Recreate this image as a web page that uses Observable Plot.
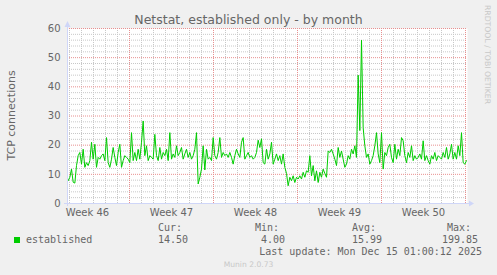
<!DOCTYPE html>
<html><head><meta charset="utf-8">
<script src="https://cdn.jsdelivr.net/npm/d3@7"></script>
<script src="https://cdn.jsdelivr.net/npm/@observablehq/plot@0.6"></script>
<style>
html,body{margin:0;padding:0;background:#f0f0f0;}
#wrap{position:relative;width:497px;height:275px;overflow:hidden;}
</style></head><body><div id="wrap"></div>
<script>
// ---- data ----
const values = [
 9.5,7.8,9,11.8,7.3,7,13,16.4,17.5,13.5,18.6,12.4,14,13,14.7,21,15.2,20.3,12.4,15.8,15.2,16.4,17,14.7,22.6,14,12.4,15.2,19.2,15.8,13,17.5,20.3,12.4,14.7,16.4,15.8,15.2,14,24.3,14.7,17.5,14.7,18.6,15.2,21,28.3,16.4,19.8,14.7,16.4,15.8,15.2,23.7,16.4,14.7,19.2,15.2,17.5,16.4,18.6,14.7,24.3,15.2,17,15.8,19.8,16.4,17.5,19.2,15.2,17,18.6,15.8,17.5,15.2,16.4,18.6,24.3,6.7,9,
 11.8,19.8,11.5,18.6,15.2,15.8,14.7,22.6,16.4,15.2,17.5,22.6,15.8,17.5,16.4,17,15.8,17.5,15.8,13.5,16.4,18.6,17,15.8,21,22.6,15.2,16.4,17.5,15.8,16.4,15.2,15.8,17.5,21.7,19.2,22.2,14,13.5,18.6,15.2,17,21,13.5,15.2,17,14.7,16.4,13.5,17,12.4,10.3,6.1,9,7.8,9.5,7.2,9,8.4,9.5,8.4,10.7,9,11.2,10.7,16.4,9.5,13,7.8,11.2,7.2,10.7,9,11.8,10.3,9,18,17.5,18.6,17,
 15.2,13,19.2,15.8,18,15.2,12.4,13.5,16.4,15.2,18.6,17,19.8,15.8,44,25,56,26,19.8,15.8,17,13.5,14.7,16.4,19.8,24.3,17,14,24.3,11.8,17.5,16.4,19.2,20.3,15.8,14,20.3,15.2,18.6,16.4,22.6,21.5,16.4,14,17.5,15.8,19.8,14.7,16.4,15.2,15.8,17,15.2,21.5,14.7,16.4,14.7,13.5,16.4,15.2,17.5,14.7,16.4,15.8,15.2,17.5,15.8,19.2,15.2,17,20.3,15.2,17.5,15.2,19.8,16.4,24.3,14,13.5,14.7
];
const sampleStart = Date.UTC(2025, 10, 11, 18, 0);
const sampleStepMinutes = 200;
const viewStart = Date.UTC(2025, 10, 11, 20, 0);
const viewEnd = Date.UTC(2025, 11, 15, 4, 0);
const weekStarts = ["2025-11-10", "2025-11-17", "2025-11-24", "2025-12-01", "2025-12-08", "2025-12-15"];
const weekLabels = ["Week 46", "Week 47", "Week 48", "Week 49", "Week 50"];
const yTicks = [0, 10, 20, 30, 40, 50, 60];
const titleText = "Netstat, established only - by month";
const yLabel = "TCP connections";
const seriesName = "established";
const statHeads = ["Cur:", "Min:", "Avg:", "Max:"];
const statValues = ["14.50", "4.00", "15.99", "199.85"];
const lastUpdate = "Last update: Mon Dec 15 01:00:12 2025";
const versionText = "Munin 2.0.73";
const watermark = "RRDTOOL / TOBI OETIKER";

// ---- derived ----
const data = values.map((v, i) => ({date: new Date(sampleStart + i * sampleStepMinutes * 60000), value: v}));
const xDomain = [new Date(viewStart), new Date(viewEnd)];
const weekDates = weekStarts.map(s => new Date(s + "T00:00:00Z"));
const weekLines = weekDates.filter(d => d > xDomain[0] && d <= xDomain[1]);
const weekMids = weekDates.slice(0, weekLabels.length).map(d => new Date(+d + 3.5 * 864e5));
const labelByTime = new Map(weekMids.map((d, i) => [+d, weekLabels[i]]));
const weekSet = new Set(weekDates.map(d => +d));
const minorDays = d3.utcDay.range(xDomain[0], xDomain[1]).filter(d => !weekSet.has(+d));
const minorY = d3.range(2, 60, 2).filter(v => v % 10 !== 0);
const majorY = yTicks.filter(v => v > 0);

const gridMinor = {stroke: "#c8c8c8", strokeDasharray: "1,1"};
const gridMajor = {stroke: "#e89090", strokeDasharray: "1,1"};

const plot = Plot.plot({
  width: 497, height: 275,
  marginLeft: 67, marginRight: 30, marginTop: 28, marginBottom: 72,
  style: {background: "transparent", fontFamily: "'DejaVu Sans', sans-serif", fontSize: "10px", color: "#666", overflow: "visible"},
  x: {type: "utc", domain: xDomain, axis: null},
  y: {domain: [0, 60], axis: null},
  marks: [
    Plot.frame({fill: "#ffffff", stroke: null}),
    Plot.ruleY(minorY, gridMinor),
    Plot.ruleX(minorDays, gridMinor),
    Plot.ruleY(majorY, gridMajor),
    Plot.ruleX(weekLines, gridMajor),
    Plot.line(data, {x: "date", y: "value", stroke: "#00cc00", strokeWidth: 1, clip: true}),
    Plot.axisY(yTicks, {anchor: "left", tickSize: 0, tickPadding: 7, label: null, fill: "#666"}),
    Plot.axisX(weekMids, {anchor: "bottom", tickSize: 0, tickPadding: 5, label: null, fill: "#666",
      tickFormat: d => labelByTime.get(+d)})
  ]
});
document.getElementById("wrap").appendChild(plot);

// ---- decorations: axis lines, arrows, texts ----
const svg = d3.select(plot);
const xs = plot.scale("x"), ys = plot.scale("y");
const X0 = xs.apply(xDomain[0]), X1 = xs.apply(xDomain[1]);
const Y0 = ys.apply(0), Y1 = ys.apply(60);
const axisColor = "#CFD6F8";
svg.append("line").attr("x1", X0 - 3).attr("x2", X1 + 3).attr("y1", Y0 + 0.5).attr("y2", Y0 + 0.5).attr("stroke", axisColor);
svg.append("line").attr("x1", X0 + 0.5).attr("x2", X0 + 0.5).attr("y1", Y0 + 3).attr("y2", Y1 - 5).attr("stroke", axisColor);
svg.append("path").attr("d", `M${X1 + 7},${Y0 + 0.5}L${X1 + 2},${Y0 - 2.5}L${X1 + 2},${Y0 + 3.5}Z`).attr("fill", axisColor);
svg.append("path").attr("d", `M${X0 + 0.5},${Y1 - 7}L${X0 - 2.5},${Y1 - 1}L${X0 + 3.5},${Y1 - 1}Z`).attr("fill", axisColor);

const sans = "'DejaVu Sans', sans-serif", mono = "'DejaVu Sans Mono', monospace";
function txt(x, y, s, size, opts = {}) {
  const t = svg.append("text").attr("x", x).attr("y", y).text(s)
    .attr("font-family", opts.family || sans).attr("font-size", size)
    .attr("fill", opts.fill || "#666").attr("text-anchor", opts.anchor || "start");
  if (opts.transform) t.attr("transform", opts.transform);
  return t;
}
txt(248.5, 24, titleText, 12.5, {anchor: "middle"});
txt(0, 0, yLabel, 11, {anchor: "middle", transform: `translate(15,${(Y0 + Y1) / 2}) rotate(-90)`});
txt(0, 0, watermark, 7.7, {fill: "#c8c8c8", transform: "translate(485,5) rotate(90)"});

svg.append("rect").attr("x", 14).attr("y", 237).attr("width", 6).attr("height", 6).attr("fill", "#00cc00");
txt(26, 243, seriesName, 10, {family: mono});
const headX = [158, 255, 352, 447];
const valX = [158, 261, 352, 442];
statHeads.forEach((h, i) => txt(headX[i], 231, h, 10, {family: mono}));
statValues.forEach((v, i) => txt(valX[i], 243, v, 10, {family: mono}));
txt(482, 255, lastUpdate, 10, {family: mono, anchor: "end"});
txt(248.5, 267, versionText, 7.6, {fill: "#c8c8c8", anchor: "middle"});
</script></body></html>
